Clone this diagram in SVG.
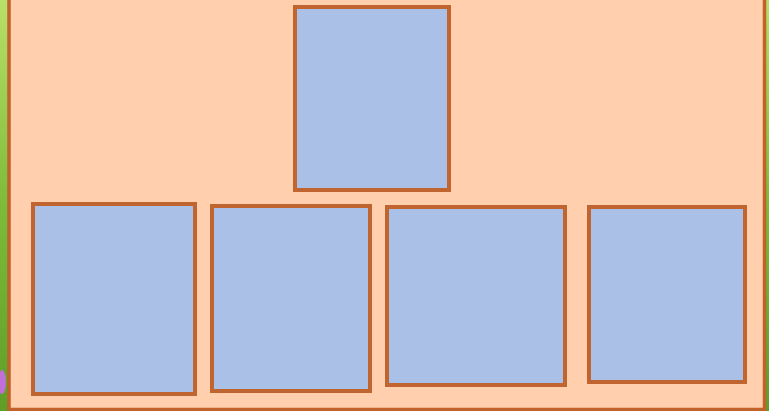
<svg xmlns="http://www.w3.org/2000/svg" width="769" height="411" viewBox="0 0 769 411">
  <defs>
    <linearGradient id="bg" x1="0" y1="0" x2="0" y2="1">
      <stop offset="0" stop-color="#B9E06A"/>
      <stop offset="0.5" stop-color="#7DBB3A"/>
      <stop offset="1" stop-color="#5E9E28"/>
    </linearGradient>
    <style>
      .node { fill: #ABC0E6; stroke: #C0652F; stroke-width: 4; }
      .frame { fill: #FFCFAE; stroke: #C0622A; stroke-width: 3.5; }
    </style>
  </defs>
  <rect x="0" y="0" width="769" height="411" fill="url(#bg)"/>
  <ellipse cx="2" cy="382" rx="4" ry="12" fill="#C070D8"/>
  <rect class="frame" x="9" y="-10" width="755.5" height="419.5"/>
  <g id="n0"><rect class="node" x="295" y="7" width="154" height="183"/></g>
  <g id="n1"><rect class="node" x="33" y="204" width="162" height="190"/></g>
  <g id="n2"><rect class="node" x="212" y="206" width="158" height="185"/></g>
  <g id="n3"><rect class="node" x="387" y="207" width="178" height="178"/></g>
  <g id="n4"><rect class="node" x="589" y="207" width="156" height="175"/></g>
  <g id="connectors"></g>
</svg>
